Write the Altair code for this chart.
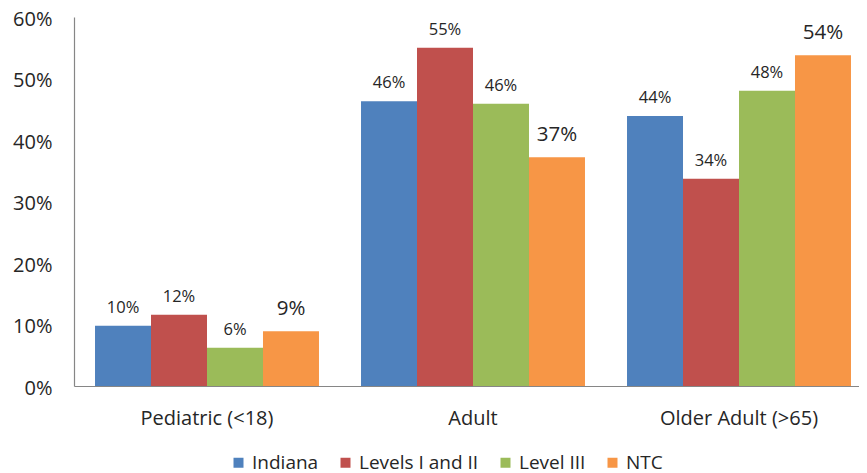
import altair as alt
import pandas as pd

categories = ["Pediatric (<18)", "Adult", "Older Adult (>65)"]
series = ["Indiana", "Levels I and II", "Level III", "NTC"]
colors = ["#4F81BD", "#C0504D", "#9BBB59", "#F79646"]
values = {
    "Indiana": [9.8, 46.3, 43.9],
    "Levels I and II": [11.6, 55.0, 33.7],
    "Level III": [6.2, 45.9, 48.0],
    "NTC": [8.9, 37.2, 53.8],
}

rows = []
for s in series:
    for c, v in zip(categories, values[s]):
        rows.append({"category": c, "series": s, "value": v})
df = pd.DataFrame(rows)

FONT = "Open Sans"
TXT = "#262626"

x = alt.X("category:N", sort=categories, title=None,
          scale=alt.Scale(range=[0, 798], paddingInner=0.158, paddingOuter=0.079),
          axis=alt.Axis(labelAngle=0, labelFontSize=20, labelColor=TXT,
                        labelFont=FONT, labelPadding=22, ticks=False,
                        domainColor="#868686", domainWidth=1.2))
xo = alt.XOffset("series:N", sort=series, scale=alt.Scale(paddingInner=0, paddingOuter=0))
y = alt.Y("value:Q", title=None,
          scale=alt.Scale(domain=[0, 60], nice=False),
          axis=alt.Axis(values=[0, 10, 20, 30, 40, 50, 60], labelExpr="datum.value + '%'",
                        labelFontSize=20, labelColor=TXT, labelFont=FONT,
                        labelPadding=22, labelOffset=2, ticks=False, grid=False,
                        domainColor="#868686", domainWidth=1.2))

bars = alt.Chart(df).mark_bar().encode(
    x=x, xOffset=xo, y=y,
    color=alt.Color("series:N", sort=series,
                    scale=alt.Scale(domain=series, range=colors),
                    legend=alt.Legend(title=None, orient="none", direction="horizontal",
                                      legendX=155, legendY=436, symbolType="square",
                                      symbolSize=100, symbolStrokeWidth=0,
                                      labelFontSize=19, labelFont=FONT, labelColor=TXT,
                                      labelOffset=4, columnPadding=17)),
)

base_lbl = alt.Chart(df).transform_calculate(
    label="format(datum.value, '.0f') + '%'"
)

labels_small = base_lbl.transform_filter("datum.series != 'NTC'").mark_text(
    baseline="alphabetic", dy=-13, font=FONT, color=TXT, fontSize=16.5
).encode(x=x, xOffset=xo, y=y, text="label:N")

labels_big = base_lbl.transform_filter("datum.series == 'NTC'").mark_text(
    baseline="alphabetic", dy=-16, font=FONT, color=TXT, fontSize=20.5
).encode(x=x, xOffset=xo, y=y, text="label:N")

chart = alt.layer(bars, labels_small, labels_big).properties(
    width=785, height=369,
    autosize=alt.AutoSizeParams(type="none"),
    padding={"left": 66, "top": 9, "right": 0, "bottom": 88},
).configure_view(stroke=None)

chart.save("out.html", embed_options={"renderer": "svg", "actions": False})
